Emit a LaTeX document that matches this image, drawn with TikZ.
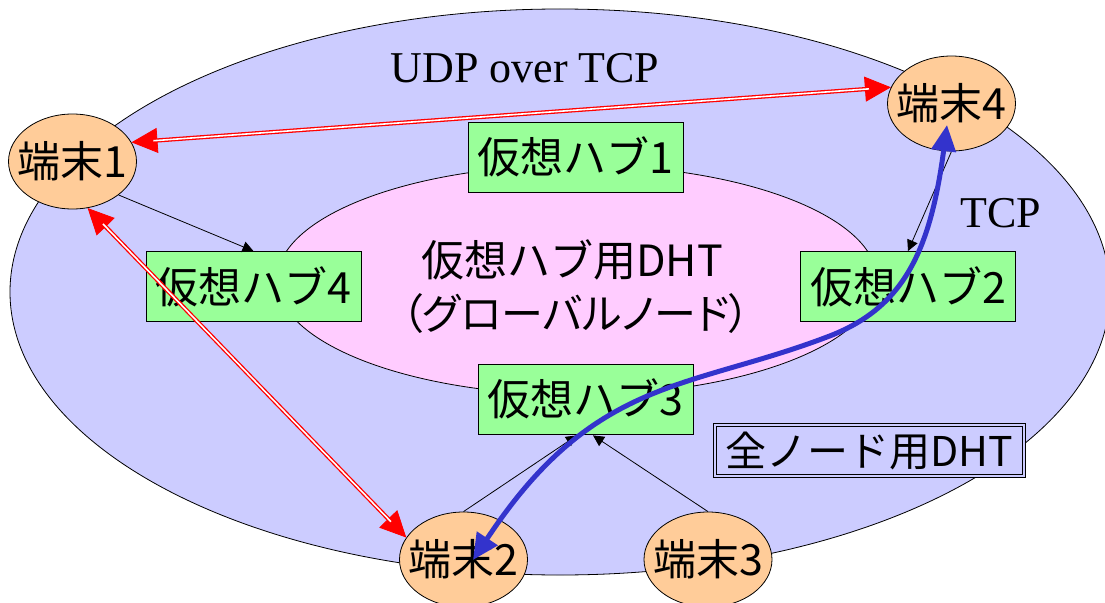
\documentclass[tikz,border=0pt]{standalone}
\usepackage{fontspec}
\setmainfont{Liberation Serif}
\newfontfamily\jp{Noto Sans CJK JP}
\newfontfamily\jpp[RawFeature=+palt]{Noto Sans CJK JP}
\usetikzlibrary{shapes.geometric,arrows.meta,calc}
\definecolor{bgblue}{HTML}{CCCCFF}
\definecolor{bgpink}{HTML}{FFCCFF}
\definecolor{hubgreen}{HTML}{99FF99}
\definecolor{termorange}{HTML}{FFCC99}
\definecolor{arrblue}{HTML}{3333CC}
\begin{document}
\begin{tikzpicture}[x=1pt,y=-1pt,
  jpfont/.style={font=\jp\fontsize{43}{50}\selectfont},
  endnode/.style={ellipse, draw, line width=0.8pt, fill=termorange,
    minimum width=128pt, minimum height=95pt, inner sep=0pt},
  hub/.style={rectangle, draw, line width=0.8pt, fill=hubgreen,
    minimum width=215pt, minimum height=70pt, inner sep=0pt, jpfont},
  thinarr/.style={draw=black, line width=0.8pt, -{Triangle[length=11pt,width=11pt]}},
  redtip/.style={draw=red, line width=0.8pt,
    {Triangle[length=26pt,width=25pt]}-{Triangle[length=26pt,width=25pt]}},
  reddouble/.style={draw=red, line width=1.3pt, double=white, double distance=1.6pt,
    shorten <=22pt, shorten >=22pt},
  bluearr/.style={draw=arrblue, line width=5pt,
    {Triangle[length=26pt,width=24pt]}-{Triangle[length=26pt,width=24pt]}}
]
\useasboundingbox (0,0) rectangle (1105,602);
\fill[white] (0,0) rectangle (1105,602);

% regions
\node[ellipse, draw, line width=0.8pt, fill=bgblue, minimum width=1100pt,
  minimum height=566pt, inner sep=0pt] (outer) at (560,292) {};
\node[ellipse, draw, line width=0.8pt, fill=bgpink, minimum width=600pt,
  minimum height=230pt, inner sep=0pt] (inner) at (577,280) {};

% texts
\node[font=\fontsize{44}{50}\selectfont, anchor=base, inner sep=0pt] (udp) at (525,82) {UDP over TCP};
\node[font=\fontsize{44}{50}\selectfont, anchor=base, inner sep=0pt] (tcp) at (1001,227) {TCP};
\node[jpfont, inner sep=0pt] (dht1) at (572,260) {仮想ハブ用DHT};
\node[font=\jpp\fontsize{42}{48}\selectfont, inner sep=0pt] (dht2) at (576,314) {（グローバルノード）};

% hubs
\node[hub] (h1) at (575.5,157) {仮想ハブ1};
\node[hub] (h4) at (253.5,286.5) {仮想ハブ4};
\node[hub] (h2) at (908,286.5) {仮想ハブ2};
\node[hub] (h3) at (585.5,399) {仮想ハブ3};
\node[rectangle, draw, line width=0.7pt, double=bgblue, double distance=2pt,
  fill=bgblue, minimum width=309pt, minimum height=51pt, inner sep=0pt,
  font=\jp\fontsize{41}{48}\selectfont]
  (all) at (869.5,450.5) {全ノード用DHT};

% terminals
\node[endnode, label={[jpfont]center:端末1}] (t1) at (72.5,161.5) {};
\node[endnode, label={[jpfont]center:端末4}] (t4) at (951.5,103.5) {};
\node[endnode, label={[jpfont]center:端末2}] (t2) at (463.5,559.5) {};
\node[endnode, label={[jpfont]center:端末3}] (t3) at (708,559.5) {};

% black arrows
\coordinate (h3a) at ($(h3.south)+(-8.5,1)$);
\coordinate (h3b) at ($(h3.south)+(7.5,1)$);
\draw[thinarr] (t1.-36) -- (h4.north);
\draw[thinarr] (t4.south) -- (h2.north);
\draw[thinarr] (t2.north) -- (h3a);
\draw[thinarr] (t3.north) -- (h3b);

% red double arrows
\draw[redtip] (t1.18) -- (t4.165);
\draw[reddouble] (t1.18) -- (t4.165);
\draw[redtip] (t1.-72) -- (t2.159);
\draw[reddouble] (t1.-72) -- (t2.159);

% blue arrow
\coordinate (b2) at ($(t2.center)+(9.5,0.5)$);
\coordinate (b4) at ($(t4.center)+(-4.5,21.5)$);
\coordinate (bm) at (827,337);
\draw[bluearr] (b2) .. controls (594,377) and (687,390) .. (bm)
  .. controls (902,309) and (930,254) .. (b4);
\end{tikzpicture}
\end{document}
